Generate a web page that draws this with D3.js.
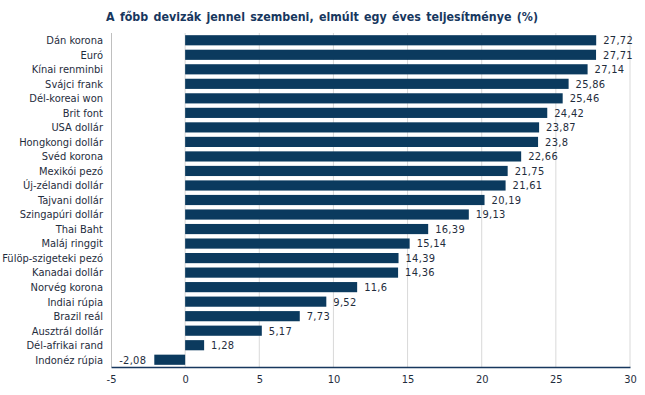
<!DOCTYPE html>
<html><head><meta charset="utf-8">
<script src="https://cdn.jsdelivr.net/npm/d3@7"></script>
<style>body{margin:0;background:#fff}svg{display:block}</style>
</head><body>
<script>
const categories = ["Dán korona","Euró","Kínai renminbi","Svájci frank","Dél-koreai won","Brit font","USA dollár","Hongkongi dollár","Svéd korona","Mexikói pezó","Új-zélandi dollár","Tajvani dollár","Szingapúri dollár","Thai Baht","Maláj ringgit","Fülöp-szigeteki pezó","Kanadai dollár","Norvég korona","Indiai rúpia","Brazil reál","Ausztrál dollár","Dél-afrikai rand","Indonéz rúpia"];
const values = [27.72,27.71,27.14,25.86,25.46,24.42,23.87,23.8,22.66,21.75,21.61,20.19,19.13,16.39,15.14,14.39,14.36,11.6,9.52,7.73,5.17,1.28,-2.08];
const ticks = [-5,0,5,10,15,20,25,30];
const title = "A főbb devizák jennel szembeni, elmúlt egy éves teljesítménye (%)";

const W=645,H=395;
const m={left:111,right:15,top:33,bottom:28};
const svg=d3.select("body").append("svg").attr("width",W).attr("height",H);
const x=d3.scaleLinear().domain([-5,30]).range([m.left,630]);
const y=d3.scaleBand().domain(categories).range([m.top,H-m.bottom]).paddingInner(0.3).paddingOuter(0.15);
const font="'DejaVu Sans Condensed','DejaVu Sans',sans-serif";

svg.append("text").attr("x",322).attr("y",21).attr("text-anchor","middle")
  .attr("font-family",font).attr("font-weight","bold").attr("font-size",12.3)
  .attr("word-spacing",1.5)
  .attr("fill","#17375e").text(title);

// grid
svg.append("g").selectAll("line").data(ticks.filter(t=>t>-5)).join("line")
  .attr("x1",d=>x(d)).attr("x2",d=>x(d)).attr("y1",m.top).attr("y2",H-m.bottom)
  .attr("stroke","#d9d9d9").attr("stroke-width",1);
// left axis line
svg.append("line").attr("x1",m.left+0.5).attr("x2",m.left+0.5).attr("y1",m.top).attr("y2",H-m.bottom)
  .attr("stroke","#bfbfbf");

// bars
svg.append("g").selectAll("rect").data(values).join("rect")
  .attr("x",d=>x(Math.min(0,d))).attr("width",d=>Math.abs(x(d)-x(0)))
  .attr("y",(d,i)=>y(categories[i])).attr("height",y.bandwidth())
  .attr("fill","#0b3a5e");

// value labels
svg.append("g").selectAll("text").data(values).join("text")
  .attr("x",d=>d>=0?x(d)+7:x(d)-8)
  .attr("text-anchor",d=>d>=0?"start":"end")
  .attr("y",(d,i)=>y(categories[i])+y.bandwidth()/2).attr("dy","0.35em")
  .attr("font-family",font).attr("font-size",11).attr("fill","#1f2d3d")
  .attr("letter-spacing",0.3)
  .text(d=>String(d).replace(".",","));

// category labels
svg.append("g").selectAll("text").data(categories).join("text")
  .attr("x",103).attr("text-anchor","end")
  .attr("y",d=>y(d)+y.bandwidth()/2).attr("dy","0.35em")
  .attr("font-family",font).attr("font-size",11).attr("fill","#1f2d3d")
  .text(d=>d);

// bottom axis
const xa=svg.append("g").attr("transform",`translate(0,${H-m.bottom})`)
  .call(d3.axisBottom(x).tickValues(ticks).tickSize(0).tickPadding(8).tickFormat(d=>d));
xa.select(".domain").attr("stroke","#17375e").attr("stroke-width",1.5);
xa.selectAll("text").attr("font-family",font).attr("font-size",11).attr("fill","#1f2d3d");
</script>
</body></html>
